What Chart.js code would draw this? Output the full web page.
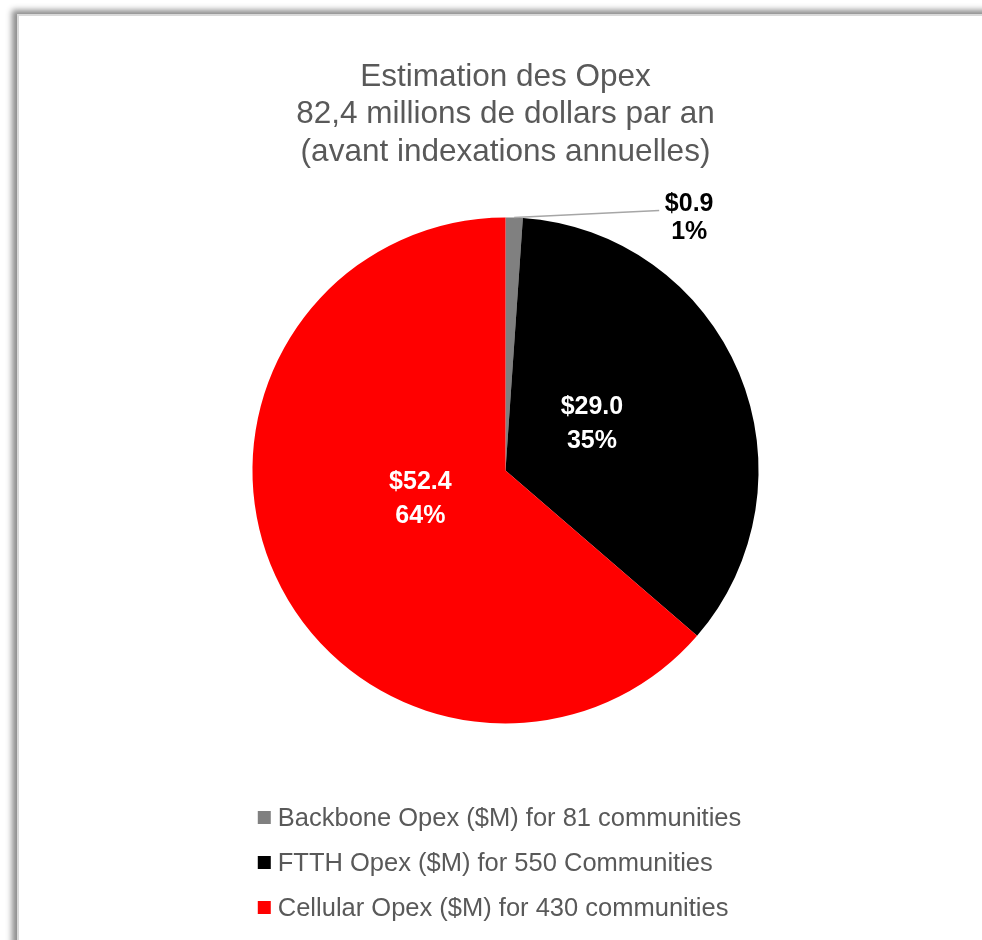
<!DOCTYPE html>
<html>
<head>
<meta charset="utf-8">
<script src="https://cdn.jsdelivr.net/npm/chart.js@4/dist/chart.umd.min.js"></script>
<style>
  html, body { margin: 0; padding: 0; background: #fff; overflow: hidden; }
  #frame {
    position: absolute; left: 17px; top: 14px; width: 1100px; height: 1100px;
    border: 2px solid #d9d9d9; background: #fff;
    box-shadow: -5px -4px 6px rgba(0, 0, 0, 0.45);
  }
  #wrap { position: absolute; left: 0; top: 0; width: 982px; height: 940px; }
</style>
</head>
<body>
<div id="frame"></div>
<div id="wrap"><canvas id="opexPie"></canvas></div>
<script>
// donnees du graphique
const categories = [
  "Backbone Opex ($M) for 81 communities",
  "FTTH Opex ($M) for 550 Communities",
  "Cellular Opex ($M) for 430 communities"
];
const opexValues = [0.9, 29.0, 52.4];
const sliceColors = ["#808080", "#000000", "#ff0000"];
const titleLines = [
  "Estimation des Opex",
  "82,4 millions de dollars par an",
  "(avant indexations annuelles)"
];

const FONT = "'Liberation Sans', Arial, sans-serif";

// etiquettes des parts ($ et %)
const sliceLabels = {
  id: "sliceLabels",
  afterDatasetsDraw(chart) {
    const ctx = chart.ctx;
    const data = chart.data.datasets[0].data;
    const total = data.reduce((a, b) => a + b, 0);
    chart.getDatasetMeta(0).data.forEach((arc, i) => {
      const p = arc.getProps(["x", "y", "startAngle", "endAngle", "outerRadius"], true);
      const mid = (p.startAngle + p.endAngle) / 2;
      const pct = Math.round((data[i] / total) * 100);
      const l1 = "$" + data[i].toFixed(1);
      const l2 = pct + "%";
      ctx.save();
      ctx.font = "bold 25px " + FONT;
      ctx.textAlign = "center";
      ctx.textBaseline = "middle";
      if (pct < 5) {
        // petite part : etiquette a l'exterieur avec trait de rappel
        const ex = p.x + Math.cos(mid) * p.outerRadius;
        const ey = p.y + Math.sin(mid) * p.outerRadius;
        const lx = ex + 145, ly = ey - 7;
        ctx.strokeStyle = "#a6a6a6";
        ctx.lineWidth = 1.5;
        ctx.beginPath();
        ctx.moveTo(ex, ey);
        ctx.lineTo(lx, ly);
        ctx.stroke();
        ctx.fillStyle = "#000";
        ctx.fillText(l1, lx + 30, ly - 6);
        ctx.fillText(l2, lx + 30, ly + 22);
      } else {
        const r = p.outerRadius * 0.37;
        const cx = p.x + Math.cos(mid) * r;
        const cy = p.y + Math.sin(mid) * r - 10;
        ctx.fillStyle = "#fff";
        ctx.fillText(l1, cx, cy - 17);
        ctx.fillText(l2, cx, cy + 17);
      }
      ctx.restore();
    });
  }
};

// legende verticale sous le graphique
const stackedLegend = {
  id: "stackedLegend",
  afterDraw(chart) {
    const ctx = chart.ctx;
    const area = chart.chartArea;
    const cx = (area.left + area.right) / 2;
    ctx.save();
    ctx.font = "25.5px " + FONT;
    const maxW = Math.max(...chart.data.labels.map(t => ctx.measureText(t).width));
    const left = cx - (13 + 7 + maxW) / 2 - 6;
    chart.data.labels.forEach((label, i) => {
      const y = area.bottom + 94.5 + i * 45;
      ctx.fillStyle = chart.data.datasets[0].backgroundColor[i];
      ctx.fillRect(left, y - 7, 13, 13);
      ctx.fillStyle = "#595959";
      ctx.textAlign = "left";
      ctx.textBaseline = "middle";
      ctx.fillText(label, left + 20, y + 1);
    });
    ctx.restore();
  }
};

new Chart(document.getElementById("opexPie").getContext("2d"), {
  type: "pie",
  data: {
    labels: categories,
    datasets: [
      {
        data: opexValues,
        backgroundColor: sliceColors,
        borderWidth: 0
      }
    ]
  },
  options: {
    responsive: true,
    maintainAspectRatio: false,
    animation: false,
    layout: { padding: { top: 58, bottom: 216.5, left: 29, right: 0 } },
    plugins: {
      legend: { display: false },
      tooltip: { enabled: false },
      title: {
        display: true,
        text: titleLines,
        color: "#595959",
        font: { family: FONT, size: 31.5, weight: "normal", lineHeight: 1.2 },
        padding: { top: 0, bottom: 46 }
      }
    }
  },
  plugins: [sliceLabels, stackedLegend]
});
</script>
</body>
</html>
